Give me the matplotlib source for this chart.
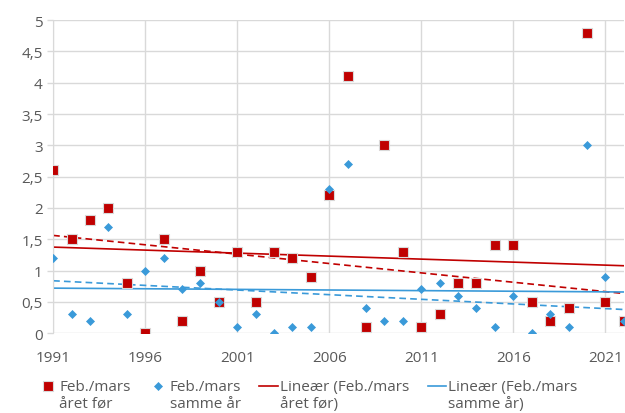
import numpy as np
import matplotlib
matplotlib.use("Agg")
import matplotlib.pyplot as plt
from matplotlib.ticker import FuncFormatter
from matplotlib.legend_handler import HandlerLine2D

plt.rcParams['font.family'] = ['Open Sans', 'DejaVu Sans']

years = np.arange(1991, 2023)
aret_for = [2.6, 1.5, 1.8, 2.0, 0.8, 0.0, 1.5, 0.2, 1.0, 0.5,
            1.3, 0.5, 1.3, 1.2, 0.9, 2.2, 4.1, 0.1, 3.0, 1.3,
            0.1, 0.3, 0.8, 0.8, 1.4, 1.4, 0.5, 0.2, 0.4, 4.8,
            0.5, 0.2]
samme_ar = [1.2, 0.3, 0.2, 1.7, 0.3, 1.0, 1.2, 0.7, 0.8, 0.5,
            0.1, 0.3, 0.0, 0.1, 0.1, 2.3, 2.7, 0.4, 0.2, 0.2,
            0.7, 0.8, 0.6, 0.4, 0.1, 0.6, 0.0, 0.3, 0.1, 3.0,
            0.9, 0.2]
utelatt_ar = 2020   # stiplet trend uten dette året

red = '#c00000'
blue = '#3a9ad9'


# legg symbolet ved første tekstlinje i stedet for midt på
class UpHandler(HandlerLine2D):
    def __init__(self, dy=6.5, **kw):
        super().__init__(**kw)
        self.dy = dy

    def create_artists(self, legend, orig_handle, xdescent, ydescent,
                       width, height, fontsize, trans):
        return super().create_artists(legend, orig_handle, xdescent,
                                      ydescent - 2 * self.dy, width, height,
                                      fontsize, trans)


fig = plt.figure(figsize=(6.25, 4.14), dpi=100)
ax = fig.add_axes([0.085, 0.193, 0.913, 0.756])

# trendlinjer
mask = years != utelatt_ar
for vals, c, lab in [(aret_for, red, 'Lineær (Feb./mars\nåret før)'),
                     (samme_ar, blue, 'Lineær (Feb./mars\nsamme år)')]:
    v = np.array(vals)
    k, m = np.polyfit(years, v, 1)
    ax.plot(years, k * years + m, color=c, lw=1.2, label=lab, zorder=2)
    k2, m2 = np.polyfit(years[mask], v[mask], 1)
    ax.plot(years, k2 * years + m2, color=c, lw=1.2, ls=(0, (4, 2.5)), zorder=2)

ax.plot(years, aret_for, 's', color=red, ms=6.5, mec='#d9d9d9', mew=0.8,
        label='Feb./mars\nåret før', zorder=3)
ax.plot(years, samme_ar, 'D', color=blue, ms=4.5, mec=blue, mew=0.5,
        label='Feb./mars\nsamme år', zorder=4)

ax.set_xlim(1991, 2022)
ax.set_ylim(0, 5)
ax.set_xticks(range(1991, 2022, 5))
ax.set_yticks(np.arange(0, 5.01, 0.5))
ax.yaxis.set_major_formatter(FuncFormatter(lambda v, p: ('%g' % v).replace('.', ',')))
ax.grid(True, color='#d9d9d9', lw=1)
ax.set_axisbelow(True)
for s in ax.spines.values():
    s.set_visible(False)
ax.spines['left'].set_visible(True)
ax.spines['left'].set_color('#d9d9d9')
ax.tick_params(axis='both', labelsize=11, labelcolor='#595959', color='#d9d9d9')
ax.tick_params(axis='x', length=0, pad=12)
ax.tick_params(axis='y', length=4, width=1, pad=3.5)

h, l = ax.get_legend_handles_labels()
order = [2, 3, 0, 1]
leg = fig.legend([h[i] for i in order], [l[i] for i in order], ncol=4,
                 loc='upper left', bbox_to_anchor=(0.062, 0.083), frameon=False,
                 fontsize=11, handlelength=1.2, handletextpad=0.15,
                 columnspacing=1.2, labelcolor='#595959', borderpad=0,
                 borderaxespad=0, handler_map={h[i]: UpHandler() for i in order})

fig.savefig('out.png', dpi=100)
